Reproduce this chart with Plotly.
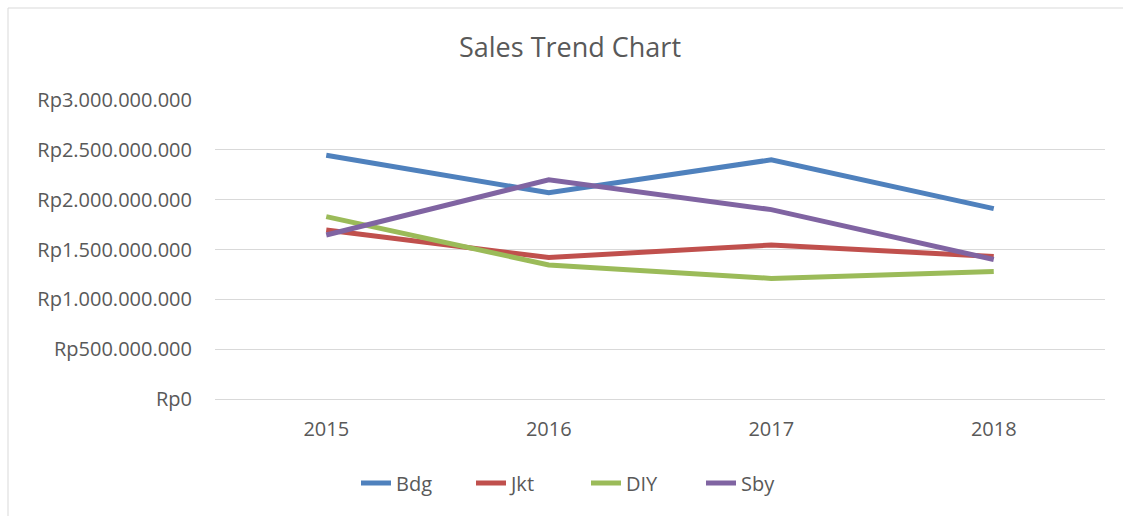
import plotly.graph_objects as go

years = ["2015", "2016", "2017", "2018"]
bdg = [2445000000, 2070000000, 2400000000, 1910000000]
jkt = [1695000000, 1420000000, 1545000000, 1430000000]
diy = [1830000000, 1345000000, 1210000000, 1280000000]
sby = [1645000000, 2200000000, 1900000000, 1400000000]

series = [("Bdg", bdg, "#4F81BD"), ("Jkt", jkt, "#C0504D"),
          ("DIY", diy, "#9BBB59"), ("Sby", sby, "#8064A2")]

W, H = 1123, 516
ml, mr, mt, mb = 215, 18, 100, 117

fig = go.Figure()
for name, vals, col in series:
    fig.add_trace(go.Scatter(x=years, y=vals, name=name, mode="lines",
                             line=dict(color=col, width=5)))

pw = W - ml - mr
ph = H - mt - mb
def px_x(p):
    return (p - ml) / pw
def px_y(p):
    return (H - mb - p) / ph

fig.add_shape(type="rect", xref="paper", yref="paper",
              x0=px_x(8), x1=px_x(1140), y0=px_y(540), y1=px_y(8),
              line=dict(color="#D9D9D9", width=1), layer="below")

font = "Open Sans"
fig.update_layout(
    width=W, height=H,
    margin=dict(l=ml, r=mr, t=mt, b=mb, autoexpand=False),
    paper_bgcolor="white", plot_bgcolor="white",
    separators=",.",
    title=dict(text="Sales Trend Chart", x=570 / W, xref="container", xanchor="center",
               y=1 - 48 / H, yanchor="middle",
               font=dict(family=font, size=27, color="#595959")),
    font=dict(family=font, color="#595959", size=20),
    xaxis=dict(type="category", range=[-0.5, 3.5], showgrid=False,
               showline=False, ticks="", tickfont=dict(size=20),
               ticklabelstandoff=16),
    yaxis=dict(range=[0, 3000000000], dtick=500000000, tickprefix="Rp",
               tickformat=",d", showgrid=True, gridcolor="#D9D9D9",
               gridwidth=1, zeroline=True, zerolinecolor="#D9D9D9",
               zerolinewidth=1, showline=False, ticks="",
               tickfont=dict(size=20), ticklabelstandoff=22),
    showlegend=True,
    legend=dict(orientation="h", x=px_x(356), xanchor="left",
                y=px_y(483), yanchor="middle",
                font=dict(size=20, color="#595959"),
                entrywidth=70, entrywidthmode="pixels", traceorder="normal"),
)

fig.write_html("out.html", config={"displayModeBar": False},
               post_script="document.body.style.margin='0';")
